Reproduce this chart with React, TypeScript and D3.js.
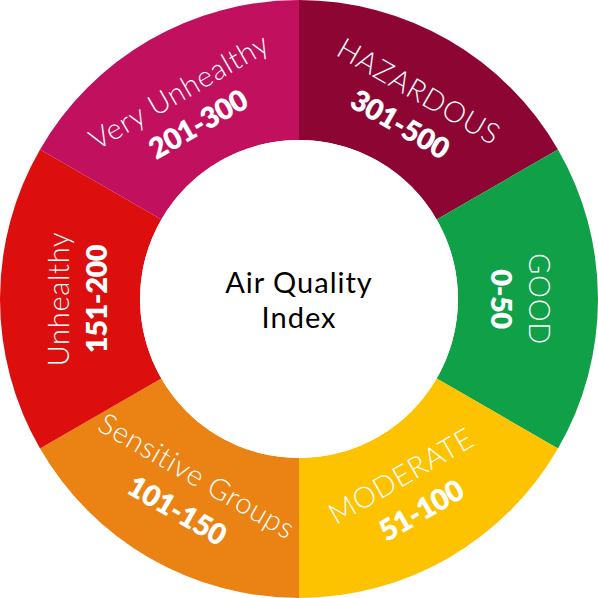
import React from "react";
import * as d3 from "d3";

const categories = ["HAZARDOUS", "GOOD", "MODERATE", "Sensitive Groups", "Unhealthy", "Very Unhealthy"];
const ranges = ["301-500", "0-50", "51-100", "101-150", "151-200", "201-300"];
const colors = ["#8D0633", "#10A048", "#FDC200", "#EA8313", "#DC0E0E", "#C0105E"];
const shares = [1, 1, 1, 1, 1, 1];
const centerLines = ["Air Quality", "Index"];

const W = 598;
const H = 598;
const cx = 299;
const cy = 299;
const outerR = 299;
const innerR = 159;

export default function App() {
  const pie = d3.pie<number>().sort(null).startAngle(0).endAngle(2 * Math.PI);
  const arcs = pie(shares);
  const arcGen = d3.arc<d3.PieArcDatum<number>>().innerRadius(innerR).outerRadius(outerR);
  const font = "Lato, 'Open Sans', sans-serif";

  return (
    <div style={{ position: "absolute", left: 0, top: 0 }}>
      <svg width={W} height={H} style={{ display: "block" }}>
        <g transform={`translate(${cx},${cy})`}>
          {arcs.map((a, i) => (
            <path key={"s" + i} d={arcGen(a) || ""} fill={colors[i]} />
          ))}
          {arcs.map((a, i) => {
            const mid = (a.startAngle + a.endAngle) / 2;
            const deg = (mid * 180) / Math.PI;
            const flipped = deg > 90 && deg < 270;
            const rot = flipped ? deg - 180 : deg;
            const rName = flipped ? 204 : 240;
            const rRange = flipped ? 244 : 202;
            const pos = (r: number) => [r * Math.sin(mid), -r * Math.cos(mid)];
            const [nx, ny] = pos(rName);
            const [rx, ry] = pos(rRange);
            return (
              <g key={"t" + i}>
                <text
                  transform={`translate(${nx},${ny}) rotate(${rot})`}
                  textAnchor="middle"
                  dy="0.36em"
                  fill="#fff"
                  fontFamily={font}
                  fontWeight={300}
                  fontSize={29}
                  letterSpacing={0.7}
                >
                  {categories[i]}
                </text>
                <text
                  transform={`translate(${rx},${ry}) rotate(${rot})`}
                  textAnchor="middle"
                  dy="0.36em"
                  fill="#fff"
                  fontFamily={font}
                  fontWeight={800}
                  fontSize={29}
                  letterSpacing={-0.5}
                >
                  {ranges[i]}
                </text>
              </g>
            );
          })}
          <circle r={innerR} fill="#fff" />
          {centerLines.map((t, i) => (
            <text
              key={"c" + i}
              x={0}
              y={-6 + i * 35}
              textAnchor="middle"
              fill="#000"
              fontFamily={font}
              fontWeight={400}
              fontSize={29}
              letterSpacing={1}
            >
              {t}
            </text>
          ))}
        </g>
      </svg>
    </div>
  );
}
